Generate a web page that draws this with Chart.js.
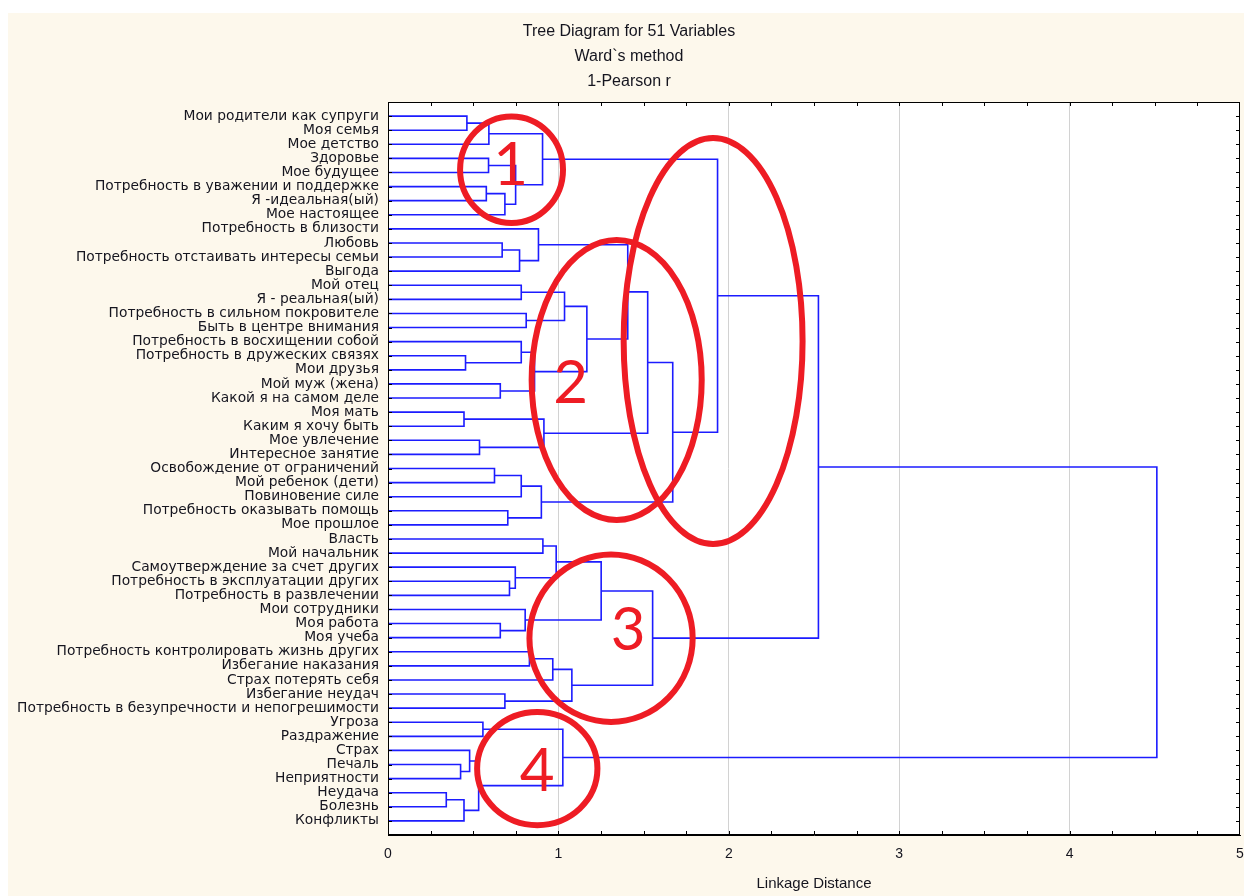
<!DOCTYPE html>
<html><head><meta charset="utf-8">
<script src="https://cdn.jsdelivr.net/npm/chart.js@4.4.1/dist/chart.umd.min.js"></script>
<style>html,body{margin:0;padding:0;background:#fff;overflow:hidden}#wrap{width:1244px;height:896px}</style>
</head><body><div id="wrap"><canvas id="c" width="1244" height="896"></canvas></div>
<script>
// ---- data ----
const titleLines = ['Tree Diagram for 51 Variables', 'Ward`s method', '1-Pearson r'];
const xAxisTitle = 'Linkage Distance';
const xTickLabels = ['0', '1', '2', '3', '4', '5'];
const variableNames = [
  'Мои родители как супруги', 'Моя семья', 'Мое детство', 'Здоровье', 'Мое будущее',
  'Потребность в уважении и поддержке', 'Я -идеальная(ый)', 'Мое настоящее', 'Потребность в близости', 'Любовь',
  'Потребность отстаивать интересы семьи', 'Выгода', 'Мой отец', 'Я - реальная(ый)', 'Потребность в сильном покровителе',
  'Быть в центре внимания', 'Потребность в восхищении собой', 'Потребность в дружеских связях', 'Мои друзья', 'Мой муж (жена)',
  'Какой я на самом деле', 'Моя мать', 'Каким я хочу быть', 'Мое увлечение', 'Интересное занятие',
  'Освобождение от ограничений', 'Мой ребенок (дети)', 'Повиновение силе', 'Потребность оказывать помощь', 'Мое прошлое',
  'Власть', 'Мой начальник', 'Самоутверждение за счет других', 'Потребность в эксплуатации других', 'Потребность в развлечении',
  'Мои сотрудники', 'Моя работа', 'Моя учеба', 'Потребность контролировать жизнь других', 'Избегание наказания',
  'Страх потерять себя', 'Избегание неудач', 'Потребность в безупречности и непогрешимости', 'Угроза', 'Раздражение',
  'Страх', 'Печаль', 'Неприятности', 'Неудача', 'Болезнь', 'Конфликты'
];
// merge k creates node (51 + k); children are leaf indices (0..50) or earlier nodes
const mergeLeft  = [0, 51, 3, 5, 54, 53, 52, 9, 58, 8, 12, 14, 61, 17, 16, 19, 65, 63, 60, 21, 23, 70, 69, 25, 74, 28, 75, 73, 57, 30, 33, 32, 80, 36, 35, 83, 38, 87, 41, 88, 86, 79, 43, 46, 45, 48, 96, 95, 93, 92];
const mergeRight = [1, 2, 4, 6, 7, 55, 56, 10, 11, 59, 13, 15, 62, 18, 64, 20, 66, 67, 68, 22, 24, 71, 72, 26, 27, 29, 76, 77, 78, 31, 34, 81, 82, 37, 84, 85, 39, 40, 42, 89, 90, 91, 44, 47, 94, 49, 50, 97, 98, 99];
const mergeDistance = [0.463, 0.592, 0.590, 0.577, 0.686, 0.749, 0.907, 0.670, 0.772, 0.883,
  0.782, 0.811, 1.036, 0.455, 0.782, 0.659, 0.860, 1.167, 1.407, 0.446,
  0.537, 0.915, 1.524, 0.625, 0.782, 0.703, 0.900, 1.671, 1.934, 0.909,
  0.713, 0.747, 0.987, 0.659, 0.805, 1.251, 0.830, 0.967, 0.686, 1.079,
  1.553, 2.526, 0.557, 0.426, 0.479, 0.342, 0.446, 0.532, 1.026, 4.512];
const groupNumbers = ['1', '2', '3', '4'];

// ---- hand-drawn annotation geometry (data units: distance, row) ----
const annotationStyle = { color: '#ee1c24', width: 6, font: '60px Lato' };
const annotationEllipses = [
  { cx: 0.725, cy: 3.80, rx: 0.302, ry: 3.78 },
  { cx: 1.342, cy: 18.72, rx: 0.499, ry: 9.93 },
  { cx: 1.908, cy: 15.95, rx: 0.525, ry: 14.40 },
  { cx: 1.309, cy: 37.04, rx: 0.479, ry: 5.94 },
  { cx: 0.876, cy: 46.29, rx: 0.353, ry: 4.01 }
];
const annotationNumberPos = [
  { x: 0.720, y: 4.88 }, { x: 1.072, y: 20.35 }, { x: 1.409, y: 37.86 }, { x: 0.876, y: 47.86 }
];

// ---- build dendrogram segments ----
const nodePos = variableNames.map((_, i) => i);
const nodeHeight = variableNames.map(() => 0);
const datasets = [];
mergeLeft.forEach((a, k) => {
  const b = mergeRight[k], d = mergeDistance[k];
  datasets.push({
    data: [{ x: nodeHeight[a], y: nodePos[a] }, { x: d, y: nodePos[a] }, { x: d, y: nodePos[b] }, { x: nodeHeight[b], y: nodePos[b] }],
    showLine: true, borderColor: '#1c1cff', borderWidth: 1.6, pointRadius: 0, tension: 0, fill: false
  });
  nodePos.push((nodePos[a] + nodePos[b]) / 2);
  nodeHeight.push(d);
});

const backgroundPlugin = {
  id: 'bg',
  beforeDraw(chart) {
    const { ctx, chartArea: a } = chart;
    ctx.save();
    ctx.fillStyle = '#ffffff';
    ctx.fillRect(0, 0, chart.width, chart.height);
    ctx.fillStyle = '#fdf8ec';
    ctx.fillRect(8, 13, chart.width - 8, chart.height - 13);
    ctx.fillStyle = '#ffffff';
    ctx.fillRect(a.left, a.top, a.right - a.left, a.bottom - a.top);
    ctx.restore();
  }
};
const framePlugin = {
  id: 'frame',
  afterDatasetsDraw(chart) {
    const { ctx, chartArea: a, scales: { x, y } } = chart;
    ctx.save();
    ctx.strokeStyle = '#000';
    ctx.lineWidth = 1;
    ctx.beginPath();
    for (let v = 0.25; v < 5; v += 0.25) {
      const px = Math.round(x.getPixelForValue(v)) + 0.5;
      ctx.moveTo(px, a.top); ctx.lineTo(px, a.top + 4);
      ctx.moveTo(px, a.bottom); ctx.lineTo(px, a.bottom - 4);
    }
    variableNames.forEach((_, i) => {
      const py = Math.round(y.getPixelForValue(i)) + 0.5;
      ctx.moveTo(a.left, py); ctx.lineTo(a.left + 4, py);
      ctx.moveTo(a.right, py); ctx.lineTo(a.right - 4, py);
    });
    ctx.stroke();
    ctx.strokeRect(Math.round(a.left) + 0.5, Math.round(a.top) + 0.5, Math.round(a.right - a.left) - 1, Math.round(a.bottom - a.top) - 1);
    ctx.restore();
  }
};
const annotationPlugin = {
  id: 'marks',
  afterDraw(chart) {
    const { ctx, scales: { x, y } } = chart;
    const ux = x.getPixelForValue(1) - x.getPixelForValue(0);
    const uy = y.getPixelForValue(1) - y.getPixelForValue(0);
    ctx.save();
    ctx.strokeStyle = annotationStyle.color;
    ctx.lineWidth = annotationStyle.width;
    annotationEllipses.forEach(e => {
      ctx.beginPath();
      ctx.ellipse(x.getPixelForValue(e.cx), y.getPixelForValue(e.cy), e.rx * ux, Math.abs(e.ry * uy), 0, 0, Math.PI * 2);
      ctx.stroke();
    });
    ctx.fillStyle = annotationStyle.color;
    ctx.font = annotationStyle.font;
    ctx.textAlign = 'center';
    ctx.textBaseline = 'alphabetic';
    groupNumbers.forEach((t, i) => {
      const p = annotationNumberPos[i];
      ctx.fillText(t, x.getPixelForValue(p.x), y.getPixelForValue(p.y));
    });
    ctx.restore();
  }
};

new Chart(document.getElementById('c'), {
  type: 'scatter',
  data: { datasets },
  options: {
    responsive: false,
    animation: false,
    events: [],
    layout: { padding: { left: 18, right: 4, top: 0, bottom: 0 } },
    plugins: {
      legend: { display: false },
      tooltip: { enabled: false },
      title: {
        display: true, text: titleLines, color: '#15151f',
        font: { family: 'Liberation Sans', size: 16, weight: 'normal', lineHeight: 25 / 16 },
        padding: { top: 19.5, bottom: 7.5 }
      }
    },
    scales: {
      x: {
        type: 'linear', min: 0, max: 5, position: 'bottom',
        afterBuildTicks: s => { s.ticks = xTickLabels.map((_, i) => ({ value: i })); },
        ticks: {
          autoSkip: false, maxRotation: 0, padding: 11, color: '#15151f',
          font: { family: 'Liberation Sans', size: 14 },
          callback: v => xTickLabels[v]
        },
        grid: {
          drawTicks: false,
          color: c => (c.tick && c.tick.value > 0 && c.tick.value < 5) ? '#d2d2d2' : 'rgba(0,0,0,0)'
        },
        border: { display: true, color: '#000', width: 1 },
        title: {
          display: true, text: xAxisTitle, color: '#15151f',
          font: { family: 'Liberation Sans', size: 15 }, padding: { top: 0, bottom: 3 }
        },
        afterFit: s => { s.height = 61; s.paddingRight = 0; s.paddingLeft = 0; }
      },
      y: {
        type: 'linear', min: -1, max: 51, reverse: true,
        afterBuildTicks: s => { s.ticks = variableNames.map((_, i) => ({ value: i })); },
        ticks: {
          autoSkip: false, padding: 9, color: '#15151f',
          font: { family: 'DejaVu Sans', size: 13.8 },
          callback: v => variableNames[v]
        },
        grid: { display: false, drawTicks: false },
        border: { display: true, color: '#000', width: 1 },
        afterFit: s => { s.width = 370; s.paddingTop = 0; s.paddingBottom = 0; }
      }
    }
  },
  plugins: [backgroundPlugin, framePlugin, annotationPlugin]
});
</script>
</body></html>
